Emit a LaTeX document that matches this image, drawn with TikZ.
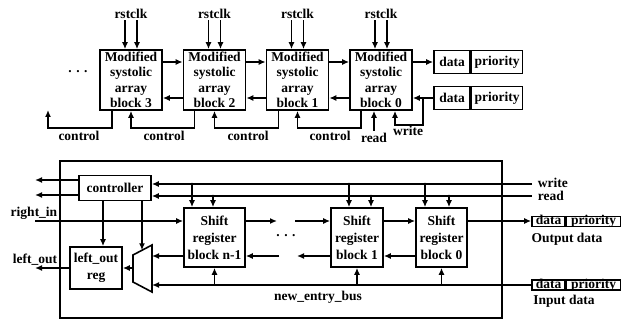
\documentclass[tikz,border=0pt]{standalone}
\usepackage{fontspec}
\setmainfont{Liberation Serif}
\usetikzlibrary{arrows.meta}
\begin{document}
\begin{tikzpicture}[x=1pt,y=-1pt,
  line width=1.6pt,
  font=\fontsize{13.5}{15.5}\selectfont\bfseries,
  arr/.style={-{Latex[length=7pt,width=6pt]}},
  sblk/.style={draw,minimum width=62pt,minimum height=60pt,inner sep=0pt,align=center,
    font=\fontsize{13.5}{15.5}\selectfont\bfseries},
  rblk/.style={draw,minimum width=61pt,minimum height=59pt,inner sep=0pt,align=center,
    font=\fontsize{13.5}{17}\selectfont\bfseries},
  dbox/.style={draw,minimum height=23pt,inner sep=0pt},
  sbox/.style={draw,minimum height=10pt,inner sep=0pt,text height=8pt,text depth=1pt},
  lbl/.style={inner sep=0pt},
  dot/.style={circle,fill,inner sep=0pt,minimum size=3.2pt}
]
\useasboundingbox (0,0) rectangle (630,320);

% ---------------- top part ----------------
\node[sblk] (b3) at (131,80) {Modified\\systolic\\array\\block 3};
\node[sblk] (b2) at (214.5,80) {Modified\\systolic\\array\\block 2};
\node[sblk] (b1) at (297.5,80) {Modified\\systolic\\array\\block 1};
\node[sblk] (b0) at (381,80) {Modified\\systolic\\array\\block 0};

\node[lbl] (dots1) at (78,72) {. . .};

\foreach \b in {b3,b2,b1,b0}{
  \coordinate (\b rs) at ([xshift=-6pt,yshift=29pt]\b.north);
  \coordinate (\b ck) at ([xshift=6pt,yshift=29pt]\b.north);
  \draw[arr] (\b rs) -- ([xshift=-6pt]\b.north);
  \draw[arr] (\b ck) -- ([xshift=6pt]\b.north);
  \node[lbl] at ([yshift=35pt]\b.north) {rstclk};
}

\draw[arr] ([yshift=18pt]b3.east) -- ([yshift=18pt]b2.west);
\draw[arr] ([yshift=18pt]b2.east) -- ([yshift=18pt]b1.west);
\draw[arr] ([yshift=18pt]b1.east) -- ([yshift=18pt]b0.west);
\draw[arr] ([yshift=-18pt]b2.west) -- ([yshift=-18pt]b3.east);
\draw[arr] ([yshift=-18pt]b1.west) -- ([yshift=-18pt]b2.east);
\draw[arr] ([yshift=-18pt]b0.west) -- ([yshift=-18pt]b1.east);

% data boxes (top)
\node[dbox,minimum width=36pt] (d1a) at (452,62) {data};
\node[dbox,minimum width=51pt,anchor=west] (d1b) at (d1a.east) {priority};
\node[dbox,minimum width=36pt] (d2a) at (452,98) {data};
\node[dbox,minimum width=51pt,anchor=west] (d2b) at (d2a.east) {priority};

\draw[arr] ([yshift=18pt]b0.east) -- (d1a.west);
\draw[arr] (d2a.west) -- ([yshift=-18pt]b0.east);

% write / read
\coordinate (wj) at (423,98);
\draw[arr] (wj) -- ++(0,27) -| ([xshift=14pt]b0.south);
\node[lbl] at (408,131) {write};
\coordinate (rd0) at ([xshift=-7pt,yshift=-20pt]b0.south);
\draw[arr] (rd0) -- ([xshift=-7pt]b0.south);
\node[lbl] at (374,138) {read};

% control lines
\draw[arr] ([xshift=-20pt]b0.south) -- ++(0,17) -| (b1.south);
\draw[arr] ([xshift=-19pt]b1.south) -- ++(0,17) -| (b2.south);
\draw[arr] ([xshift=-20pt]b2.south) -- ++(0,17) -| (b3.south);
\coordinate (c3end) at (48,110);
\draw[arr] ([xshift=-19pt]b3.south) -- ++(0,17) -| (c3end);
\node[lbl] at (79,136) {control};
\node[lbl] at (164,136) {control};
\node[lbl] at (248,136) {control};
\node[lbl] at (330,136) {control};

% ---------------- bottom part ----------------
\node[draw,line width=1.2pt,minimum width=442pt,minimum height=157pt,inner sep=0pt] (frame) at (281,239.5) {};

\node[draw,minimum width=72pt,minimum height=25pt,inner sep=0pt] (ctl) at (115,188) {controller};

\coordinate (win) at (532,184);
\coordinate (rin) at (532,196);
\draw[arr] (win) -- (win -| ctl.east);
\draw[arr] (rin) -- (rin -| ctl.east);
\node[lbl,anchor=west] at (537,183) {write};
\node[lbl,anchor=west] at (537,196) {read};

\coordinate (o1) at (35,180);
\coordinate (o2) at (35,195);
\draw[arr] (o1 -| ctl.west) -- (o1);
\draw[arr] (o2 -| ctl.west) -- (o2);

\node[rblk] (s2) at (214.5,237.5) {Shift\\register\\block n-1};
\node[rblk,minimum width=52pt] (s1) at (357,237.5) {Shift\\register\\block 1};
\node[rblk,minimum width=51pt] (s0) at (441.5,237.5) {Shift\\register\\block 0};

% write/read drops
\foreach \n/\x/\y/\s in {w2/192/184/s2, r2/213/196/s2, w1/349/184/s1, r1/371/196/s1, w0/425/184/s0, r0/449/196/s0}{
  \coordinate (\n) at (\x,\y);
  \draw[arr] (\n) -- (\n |- \s.north);
  \node[dot,minimum size=2.8pt] at (\n) {};
}

% forward chain
\coordinate (f1) at (277,221);
\coordinate (f2) at (295,221);
\draw[arr] ([yshift=16.5pt]s2.east) -- (f1);
\draw[arr] (f2) -- (f2 -| s1.west);
\draw[arr] ([yshift=16.5pt]s1.east) -- ([yshift=16.5pt]s0.west);

% backward chain
\coordinate (k1) at (297,256);
\coordinate (k2) at (279,256);
\draw[arr] ([yshift=-18.5pt]s0.west) -- ([yshift=-18.5pt]s1.east);
\draw[arr] ([yshift=-18.5pt]s1.west) -- (k1);
\draw[arr] (k2) -- (k2 -| s2.east);
\node[lbl] (dots2) at (286,236) {. . .};

% output / input data
\node[sbox,minimum width=33pt] (oda) at (548.5,221.5) {data};
\node[sbox,minimum width=54pt,anchor=west] (odb) at (oda.east) {priority};
\node[sbox,minimum width=33pt] (ida) at (548.5,285) {data};
\node[sbox,minimum width=54pt,anchor=west] (idb) at (ida.east) {priority};
\node[lbl] at (567,239) {Output data};
\node[lbl] at (564,301) {Input data};

\draw[arr] ([yshift=16.5pt]s0.east) -- ([yshift=16.5pt]s0.east -| oda.west);

% mux
\coordinate (m1) at (133,255);
\coordinate (m2) at (152,245);
\coordinate (m3) at (152,292);
\coordinate (m4) at (133,282);
\draw (m1) -- (m2) -- (m3) -- (m4) -- cycle;
\coordinate (mtop) at (142,250.3);
\coordinate (mo) at (133,268);

% left_out reg
\node[draw,minimum width=52pt,minimum height=42pt,inner sep=0pt,align=center,
  font=\fontsize{13.5}{17}\selectfont\bfseries] (lreg) at (96,268) {left\_out\\reg};

% new entry bus
\coordinate (inb) at (ida.west);
\draw[arr] (inb) -- (inb -| m2);
\draw[arr] (s2.south |- inb) -- (s2.south);
\draw[arr] (s1.south |- inb) -- (s1.south);
\draw[arr] (s0.south |- inb) -- (s0.south);
\node[lbl] at (318,297) {new\_entry\_bus};

% mux inputs / output
\draw[arr] ([yshift=-18.5pt]s2.west) -- ([yshift=-18.5pt]s2.west -| m2);
\draw[arr] (mo) -- (mo -| lreg.east);

% right_in and controller drops
\coordinate (rin0) at (35,221);
\draw[arr] (rin0) -- (rin0 -| s2.west);
\node[lbl] at (34,213) {right\_in};
\coordinate (j1) at (103,221);
\coordinate (j2) at (142,221);
\draw[arr] (j1 |- ctl.south) -- (j1 |- lreg.north);
\draw[arr] (j2 |- ctl.south) -- (mtop);
\node[dot] at (j1) {};
\node[dot] at (j2) {};

% left_out
\coordinate (lo) at (35,268);
\draw[arr] (lreg.west) -- (lo);
\node[lbl] at (35,260) {left\_out};
\end{tikzpicture}
\end{document}
